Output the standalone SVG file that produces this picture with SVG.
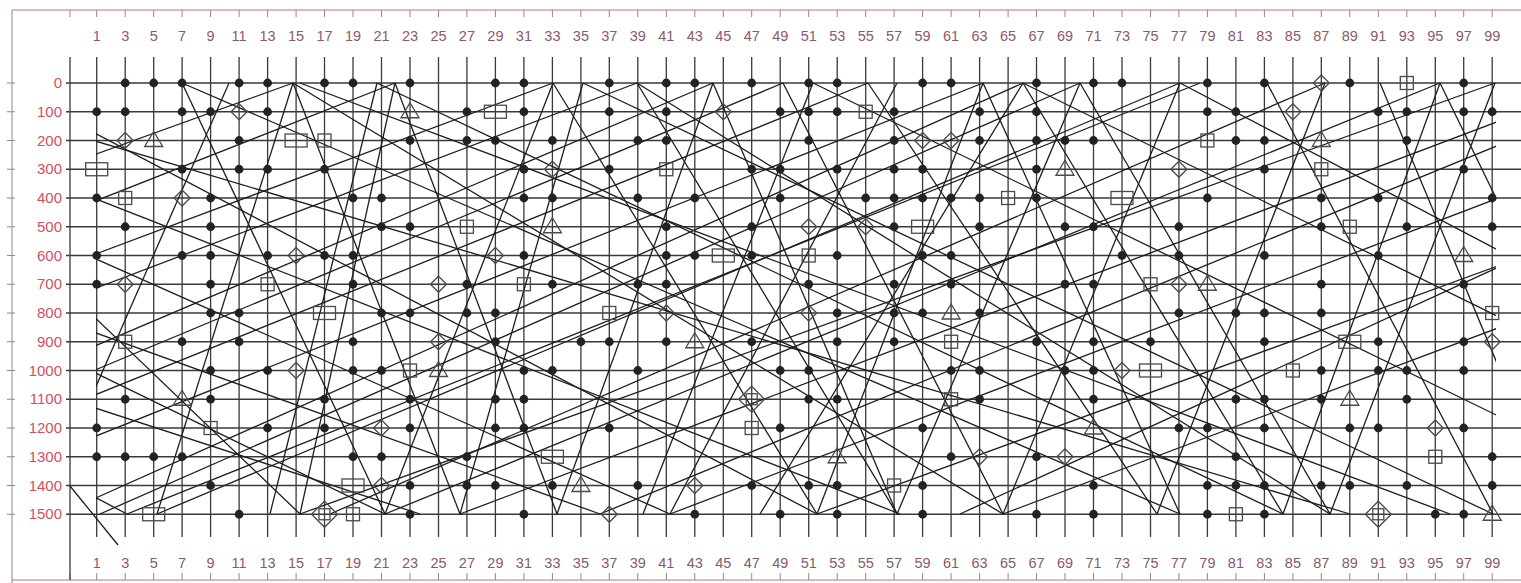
<svg xmlns="http://www.w3.org/2000/svg" width="1521" height="583" viewBox="0 0 1521 583">
<style>
.g{stroke:#3a3a3a;stroke-width:1.3;fill:none}
.ln{stroke:#1e1e1e;stroke-width:1.3;fill:none}
.sym{fill:none;stroke:#4a4a4a;stroke-width:1.3}
.ct{font-family:"Liberation Sans",Arial,sans-serif;font-size:14.5px;fill:#8a5a6a;text-anchor:middle}
.rt{font-family:"Liberation Sans",Arial,sans-serif;font-size:15px;fill:#d0505e;text-anchor:end}
.fr{stroke:#e39aa2;stroke-width:1.5;fill:none}
.tk{stroke:#8a8a8a;stroke-width:1}
</style>
<defs>
<circle id="d" r="4.4" fill="#222"/>
<rect id="q" x="-6.5" y="-6.5" width="13" height="13" class="sym"/>
<rect id="w" x="-11" y="-6.5" width="22" height="13" class="sym"/>
<path id="m" d="M0-8L8 0L0 8L-8 0Z" class="sym"/>
<g id="M"><path d="M0-13L13 0L0 13L-13 0Z" class="sym"/><rect x="-5.5" y="-5.5" width="11" height="11" class="sym"/></g>
<path id="t" d="M0-9L9 6L-9 6Z" class="sym"/>
<clipPath id="cp"><rect x="96" y="80" width="1400" height="437"/></clipPath>
</defs>
<rect width="1521" height="583" fill="#fff"/>
<g id="frame">
<line class="fr" x1="12" y1="10" x2="1521" y2="10"/>
<line class="fr" x1="12" y1="580" x2="1521" y2="580"/>
<line class="tk" x1="12" y1="10" x2="12" y2="583"/>
<path class="tk" d="M70 10v7M96.7 10v7M125.2 10v7M153.7 10v7M182.1 10v7M210.6 10v7M239.1 10v7M267.6 10v7M296.1 10v7M324.5 10v7M353 10v7M381.5 10v7M410 10v7M438.5 10v7M466.9 10v7M495.4 10v7M523.9 10v7M552.4 10v7M580.9 10v7M609.3 10v7M637.8 10v7M666.3 10v7M694.8 10v7M723.3 10v7M751.7 10v7M780.2 10v7M808.7 10v7M837.2 10v7M865.7 10v7M894.1 10v7M922.6 10v7M951.1 10v7M979.6 10v7M1008.1 10v7M1036.5 10v7M1065 10v7M1093.5 10v7M1122 10v7M1150.5 10v7M1178.9 10v7M1207.4 10v7M1235.9 10v7M1264.4 10v7M1292.9 10v7M1321.3 10v7M1349.8 10v7M1378.3 10v7M1406.8 10v7M1435.3 10v7M1463.7 10v7M1492.2 10v7"/>
<path class="tk" d="M70 573v7M96.7 573v7M125.2 573v7M153.7 573v7M182.1 573v7M210.6 573v7M239.1 573v7M267.6 573v7M296.1 573v7M324.5 573v7M353 573v7M381.5 573v7M410 573v7M438.5 573v7M466.9 573v7M495.4 573v7M523.9 573v7M552.4 573v7M580.9 573v7M609.3 573v7M637.8 573v7M666.3 573v7M694.8 573v7M723.3 573v7M751.7 573v7M780.2 573v7M808.7 573v7M837.2 573v7M865.7 573v7M894.1 573v7M922.6 573v7M951.1 573v7M979.6 573v7M1008.1 573v7M1036.5 573v7M1065 573v7M1093.5 573v7M1122 573v7M1150.5 573v7M1178.9 573v7M1207.4 573v7M1235.9 573v7M1264.4 573v7M1292.9 573v7M1321.3 573v7M1349.8 573v7M1378.3 573v7M1406.8 573v7M1435.3 573v7M1463.7 573v7M1492.2 573v7"/>
<path class="tk" d="M7 83h8M7 111.75h8M7 140.5h8M7 169.25h8M7 198h8M7 226.75h8M7 255.5h8M7 284.25h8M7 313h8M7 341.75h8M7 370.5h8M7 399.25h8M7 428h8M7 456.75h8M7 485.5h8M7 514.25h8"/>
</g>
<g id="grid" class="g">
<path d="M70 57V580M96.7 57V537M125.2 57V537M153.7 57V537M182.1 57V537M210.6 57V537M239.1 57V537M267.6 57V537M296.1 57V537M324.5 57V537M353 57V537M381.5 57V537M410 57V537M438.5 57V537M466.9 57V537M495.4 57V537M523.9 57V537M552.4 57V537M580.9 57V537M609.3 57V537M637.8 57V537M666.3 57V537M694.8 57V537M723.3 57V537M751.7 57V537M780.2 57V537M808.7 57V537M837.2 57V537M865.7 57V537M894.1 57V537M922.6 57V537M951.1 57V537M979.6 57V537M1008.1 57V537M1036.5 57V537M1065 57V537M1093.5 57V537M1122 57V537M1150.5 57V537M1178.9 57V537M1207.4 57V537M1235.9 57V537M1264.4 57V537M1292.9 57V537M1321.3 57V537M1349.8 57V537M1378.3 57V537M1406.8 57V537M1435.3 57V537M1463.7 57V537M1492.2 57V537"/>
<path d="M66 83H1521M66 111.75H1521M66 140.5H1521M66 169.25H1521M66 198H1521M66 226.75H1521M66 255.5H1521M66 284.25H1521M66 313H1521M66 341.75H1521M66 370.5H1521M66 399.25H1521M66 428H1521M66 456.75H1521M66 485.5H1521M66 514.25H1521"/>
</g>
<g id="row-labels" class="rt">
<text x="62" y="88">0</text><text x="62" y="117">100</text><text x="62" y="146">200</text><text x="62" y="174">300</text><text x="62" y="203">400</text><text x="62" y="232">500</text><text x="62" y="261">600</text><text x="62" y="289">700</text><text x="62" y="318">800</text><text x="62" y="347">900</text><text x="62" y="376">1000</text><text x="62" y="404">1100</text><text x="62" y="433">1200</text><text x="62" y="462">1300</text><text x="62" y="491">1400</text><text x="62" y="519">1500</text>
</g>
<g id="col-labels-top" class="ct">
<text x="96.7" y="41">1</text><text x="125.2" y="41">3</text><text x="153.7" y="41">5</text><text x="182.1" y="41">7</text><text x="210.6" y="41">9</text><text x="239.1" y="41">11</text><text x="267.6" y="41">13</text><text x="296.1" y="41">15</text><text x="324.5" y="41">17</text><text x="353" y="41">19</text><text x="381.5" y="41">21</text><text x="410" y="41">23</text><text x="438.5" y="41">25</text><text x="466.9" y="41">27</text><text x="495.4" y="41">29</text><text x="523.9" y="41">31</text><text x="552.4" y="41">33</text><text x="580.9" y="41">35</text><text x="609.3" y="41">37</text><text x="637.8" y="41">39</text><text x="666.3" y="41">41</text><text x="694.8" y="41">43</text><text x="723.3" y="41">45</text><text x="751.7" y="41">47</text><text x="780.2" y="41">49</text><text x="808.7" y="41">51</text><text x="837.2" y="41">53</text><text x="865.7" y="41">55</text><text x="894.1" y="41">57</text><text x="922.6" y="41">59</text><text x="951.1" y="41">61</text><text x="979.6" y="41">63</text><text x="1008.1" y="41">65</text><text x="1036.5" y="41">67</text><text x="1065" y="41">69</text><text x="1093.5" y="41">71</text><text x="1122" y="41">73</text><text x="1150.5" y="41">75</text><text x="1178.9" y="41">77</text><text x="1207.4" y="41">79</text><text x="1235.9" y="41">81</text><text x="1264.4" y="41">83</text><text x="1292.9" y="41">85</text><text x="1321.3" y="41">87</text><text x="1349.8" y="41">89</text><text x="1378.3" y="41">91</text><text x="1406.8" y="41">93</text><text x="1435.3" y="41">95</text><text x="1463.7" y="41">97</text><text x="1492.2" y="41">99</text>
</g>
<g id="col-labels-bottom" class="ct">
<text x="96.7" y="568">1</text><text x="125.2" y="568">3</text><text x="153.7" y="568">5</text><text x="182.1" y="568">7</text><text x="210.6" y="568">9</text><text x="239.1" y="568">11</text><text x="267.6" y="568">13</text><text x="296.1" y="568">15</text><text x="324.5" y="568">17</text><text x="353" y="568">19</text><text x="381.5" y="568">21</text><text x="410" y="568">23</text><text x="438.5" y="568">25</text><text x="466.9" y="568">27</text><text x="495.4" y="568">29</text><text x="523.9" y="568">31</text><text x="552.4" y="568">33</text><text x="580.9" y="568">35</text><text x="609.3" y="568">37</text><text x="637.8" y="568">39</text><text x="666.3" y="568">41</text><text x="694.8" y="568">43</text><text x="723.3" y="568">45</text><text x="751.7" y="568">47</text><text x="780.2" y="568">49</text><text x="808.7" y="568">51</text><text x="837.2" y="568">53</text><text x="865.7" y="568">55</text><text x="894.1" y="568">57</text><text x="922.6" y="568">59</text><text x="951.1" y="568">61</text><text x="979.6" y="568">63</text><text x="1008.1" y="568">65</text><text x="1036.5" y="568">67</text><text x="1065" y="568">69</text><text x="1093.5" y="568">71</text><text x="1122" y="568">73</text><text x="1150.5" y="568">75</text><text x="1178.9" y="568">77</text><text x="1207.4" y="568">79</text><text x="1235.9" y="568">81</text><text x="1264.4" y="568">83</text><text x="1292.9" y="568">85</text><text x="1321.3" y="568">87</text><text x="1349.8" y="568">89</text><text x="1378.3" y="568">91</text><text x="1406.8" y="568">93</text><text x="1435.3" y="568">95</text><text x="1463.7" y="568">97</text><text x="1492.2" y="568">99</text>
</g>
<g id="connectors" class="ln">
<line x1="70" y1="486" x2="118" y2="545"/>
<g clip-path="url(#cp)">
<line x1="1200" y1="83" x2="127" y2="514"/><line x1="1180" y1="83" x2="157" y2="514"/><line x1="1495" y1="83" x2="300" y2="514"/><line x1="1440" y1="83" x2="385" y2="514"/><line x1="868" y1="83" x2="-200" y2="514"/><line x1="713" y1="83" x2="-300" y2="514"/><line x1="553" y1="83" x2="-600" y2="514"/><line x1="983" y1="83" x2="-100" y2="514"/><line x1="1080" y1="83" x2="100" y2="514"/><line x1="395" y1="83" x2="-700" y2="514"/><line x1="293" y1="83" x2="-900" y2="514"/><line x1="1325" y1="83" x2="330" y2="514"/><line x1="1600" y1="83" x2="460" y2="514"/><line x1="1650" y1="83" x2="600" y2="514"/><line x1="1800" y1="83" x2="670" y2="514"/><line x1="2000" y1="83" x2="817" y2="514"/><line x1="783" y1="83" x2="-250" y2="514"/><line x1="1023" y1="83" x2="60" y2="514"/><line x1="637" y1="83" x2="-500" y2="514"/><line x1="1900" y1="83" x2="960" y2="514"/><line x1="2150" y1="83" x2="1003" y2="514"/>
<line x1="377" y1="83" x2="1283" y2="514"/><line x1="583" y1="83" x2="1493" y2="514"/><line x1="293" y1="83" x2="1003" y2="514"/><line x1="813" y1="83" x2="1700" y2="514"/><line x1="1023" y1="83" x2="1900" y2="514"/><line x1="-300" y1="83" x2="670" y2="514"/><line x1="0" y1="83" x2="817" y2="514"/><line x1="-500" y1="83" x2="385" y2="514"/><line x1="637" y1="83" x2="1330" y2="514"/><line x1="1180" y1="83" x2="2000" y2="514"/><line x1="182" y1="83" x2="1180" y2="514"/><line x1="-700" y1="83" x2="127" y2="514"/><line x1="-200" y1="83" x2="900" y2="514"/><line x1="-600" y1="83" x2="600" y2="514"/><line x1="-900" y1="83" x2="420" y2="514"/><line x1="-100" y1="83" x2="1350" y2="514"/><line x1="300" y1="83" x2="1450" y2="514"/>
<line x1="182" y1="83" x2="385" y2="514"/><line x1="395" y1="83" x2="557" y2="514"/><line x1="553" y1="83" x2="817" y2="514"/><line x1="713" y1="83" x2="897" y2="514"/><line x1="868" y1="83" x2="1157" y2="514"/><line x1="983" y1="83" x2="1180" y2="514"/><line x1="1080" y1="83" x2="1330" y2="514"/><line x1="1267" y1="83" x2="1493" y2="514"/><line x1="637" y1="83" x2="897" y2="514"/><line x1="1440" y1="83" x2="1650" y2="514"/><line x1="293" y1="83" x2="460" y2="514"/><line x1="783" y1="83" x2="1003" y2="514"/><line x1="1023" y1="83" x2="1283" y2="514"/><line x1="-150" y1="83" x2="300" y2="514"/><line x1="1380" y1="83" x2="1560" y2="514"/>
<line x1="229" y1="83" x2="40" y2="514"/><line x1="395" y1="83" x2="300" y2="514"/><line x1="583" y1="83" x2="460" y2="514"/><line x1="713" y1="83" x2="557" y2="514"/><line x1="813" y1="83" x2="643" y2="514"/><line x1="1080" y1="83" x2="897" y2="514"/><line x1="1180" y1="83" x2="1003" y2="514"/><line x1="1325" y1="83" x2="1157" y2="514"/><line x1="1495" y1="83" x2="1330" y2="514"/><line x1="983" y1="83" x2="817" y2="514"/><line x1="377" y1="83" x2="270" y2="514"/><line x1="1440" y1="83" x2="1283" y2="514"/><line x1="897" y1="83" x2="670" y2="514"/><line x1="553" y1="83" x2="385" y2="514"/><line x1="293" y1="83" x2="157" y2="514"/><line x1="1023" y1="83" x2="760" y2="514"/>
</g>
</g>
<g id="marks">
<g transform="translate(0,83)"><use href="#d" x="125.2"/><use href="#d" x="153.7"/><use href="#d" x="182.1"/><use href="#d" x="239.1"/><use href="#d" x="267.6"/><use href="#d" x="324.5"/><use href="#d" x="353"/><use href="#d" x="410"/><use href="#d" x="495.4"/><use href="#d" x="523.9"/><use href="#d" x="609.3"/><use href="#d" x="666.3"/><use href="#d" x="694.8"/><use href="#d" x="751.7"/><use href="#d" x="808.7"/><use href="#d" x="837.2"/><use href="#d" x="922.6"/><use href="#d" x="951.1"/><use href="#d" x="1036.5"/><use href="#d" x="1093.5"/><use href="#d" x="1122"/><use href="#d" x="1207.4"/><use href="#d" x="1264.4"/><use href="#d" x="1349.8"/><use href="#d" x="1463.7"/><use href="#m" x="1321.3"/><use href="#q" x="1406.8"/></g>
<g transform="translate(0,111.75)"><use href="#d" x="96.7"/><use href="#d" x="125.2"/><use href="#d" x="182.1"/><use href="#d" x="210.6"/><use href="#d" x="267.6"/><use href="#d" x="466.9"/><use href="#d" x="523.9"/><use href="#d" x="609.3"/><use href="#d" x="666.3"/><use href="#d" x="780.2"/><use href="#d" x="808.7"/><use href="#d" x="837.2"/><use href="#d" x="894.1"/><use href="#d" x="979.6"/><use href="#d" x="1036.5"/><use href="#d" x="1207.4"/><use href="#d" x="1235.9"/><use href="#d" x="1378.3"/><use href="#d" x="1406.8"/><use href="#d" x="1463.7"/><use href="#d" x="1492.2"/><use href="#m" x="239.1"/><use href="#m" x="723.3"/><use href="#m" x="1292.9"/><use href="#t" x="410"/><use href="#w" x="495.4"/><use href="#q" x="865.7"/></g>
<g transform="translate(0,140.5)"><use href="#d" x="239.1"/><use href="#d" x="410"/><use href="#d" x="466.9"/><use href="#d" x="495.4"/><use href="#d" x="552.4"/><use href="#d" x="637.8"/><use href="#d" x="666.3"/><use href="#d" x="808.7"/><use href="#d" x="894.1"/><use href="#d" x="979.6"/><use href="#d" x="1036.5"/><use href="#d" x="1065"/><use href="#d" x="1093.5"/><use href="#d" x="1235.9"/><use href="#d" x="1264.4"/><use href="#d" x="1406.8"/><use href="#m" x="125.2"/><use href="#m" x="922.6"/><use href="#m" x="951.1"/><use href="#t" x="153.7"/><use href="#t" x="1321.3"/><use href="#w" x="296.1"/><use href="#q" x="324.5"/><use href="#q" x="1207.4"/></g>
<g transform="translate(0,169.25)"><use href="#d" x="182.1"/><use href="#d" x="239.1"/><use href="#d" x="267.6"/><use href="#d" x="324.5"/><use href="#d" x="523.9"/><use href="#d" x="609.3"/><use href="#d" x="751.7"/><use href="#d" x="780.2"/><use href="#d" x="837.2"/><use href="#d" x="894.1"/><use href="#d" x="922.6"/><use href="#d" x="1036.5"/><use href="#d" x="1264.4"/><use href="#d" x="1463.7"/><use href="#w" x="96.7"/><use href="#m" x="552.4"/><use href="#m" x="1178.9"/><use href="#q" x="666.3"/><use href="#q" x="1321.3"/><use href="#t" x="1065"/></g>
<g transform="translate(0,198)"><use href="#d" x="96.7"/><use href="#d" x="210.6"/><use href="#d" x="353"/><use href="#d" x="381.5"/><use href="#d" x="523.9"/><use href="#d" x="552.4"/><use href="#d" x="637.8"/><use href="#d" x="694.8"/><use href="#d" x="780.2"/><use href="#d" x="865.7"/><use href="#d" x="894.1"/><use href="#d" x="922.6"/><use href="#d" x="951.1"/><use href="#d" x="979.6"/><use href="#d" x="1036.5"/><use href="#d" x="1207.4"/><use href="#d" x="1321.3"/><use href="#d" x="1378.3"/><use href="#d" x="1492.2"/><use href="#q" x="125.2"/><use href="#q" x="1008.1"/><use href="#w" x="1122"/><use href="#m" x="182.1"/></g>
<g transform="translate(0,226.75)"><use href="#d" x="125.2"/><use href="#d" x="210.6"/><use href="#d" x="381.5"/><use href="#d" x="410"/><use href="#d" x="666.3"/><use href="#d" x="751.7"/><use href="#d" x="894.1"/><use href="#d" x="979.6"/><use href="#d" x="1065"/><use href="#d" x="1093.5"/><use href="#d" x="1178.9"/><use href="#d" x="1321.3"/><use href="#d" x="1406.8"/><use href="#d" x="1492.2"/><use href="#q" x="466.9"/><use href="#q" x="1349.8"/><use href="#t" x="552.4"/><use href="#m" x="865.7"/><use href="#m" x="808.7"/><use href="#w" x="922.6"/></g>
<g transform="translate(0,255.5)"><use href="#d" x="96.7"/><use href="#d" x="182.1"/><use href="#d" x="210.6"/><use href="#d" x="267.6"/><use href="#d" x="324.5"/><use href="#d" x="353"/><use href="#d" x="523.9"/><use href="#d" x="666.3"/><use href="#d" x="694.8"/><use href="#d" x="751.7"/><use href="#d" x="837.2"/><use href="#d" x="922.6"/><use href="#d" x="951.1"/><use href="#d" x="1122"/><use href="#d" x="1178.9"/><use href="#d" x="1264.4"/><use href="#d" x="1378.3"/><use href="#m" x="296.1"/><use href="#m" x="495.4"/><use href="#w" x="723.3"/><use href="#q" x="808.7"/><use href="#t" x="1463.7"/></g>
<g transform="translate(0,284.25)"><use href="#d" x="96.7"/><use href="#d" x="210.6"/><use href="#d" x="353"/><use href="#d" x="466.9"/><use href="#d" x="552.4"/><use href="#d" x="637.8"/><use href="#d" x="666.3"/><use href="#d" x="808.7"/><use href="#d" x="894.1"/><use href="#d" x="951.1"/><use href="#d" x="1065"/><use href="#d" x="1093.5"/><use href="#d" x="1321.3"/><use href="#d" x="1463.7"/><use href="#m" x="125.2"/><use href="#m" x="438.5"/><use href="#m" x="1178.9"/><use href="#q" x="267.6"/><use href="#q" x="523.9"/><use href="#q" x="1150.5"/><use href="#t" x="1207.4"/></g>
<g transform="translate(0,313)"><use href="#d" x="210.6"/><use href="#d" x="239.1"/><use href="#d" x="381.5"/><use href="#d" x="410"/><use href="#d" x="466.9"/><use href="#d" x="495.4"/><use href="#d" x="837.2"/><use href="#d" x="894.1"/><use href="#d" x="922.6"/><use href="#d" x="979.6"/><use href="#d" x="1178.9"/><use href="#d" x="1235.9"/><use href="#d" x="1264.4"/><use href="#d" x="1321.3"/><use href="#w" x="324.5"/><use href="#q" x="609.3"/><use href="#q" x="1492.2"/><use href="#m" x="666.3"/><use href="#m" x="808.7"/><use href="#t" x="951.1"/></g>
<g transform="translate(0,341.75)"><use href="#d" x="182.1"/><use href="#d" x="239.1"/><use href="#d" x="353"/><use href="#d" x="495.4"/><use href="#d" x="580.9"/><use href="#d" x="609.3"/><use href="#d" x="666.3"/><use href="#d" x="751.7"/><use href="#d" x="837.2"/><use href="#d" x="894.1"/><use href="#d" x="1036.5"/><use href="#d" x="1093.5"/><use href="#d" x="1150.5"/><use href="#d" x="1264.4"/><use href="#d" x="1378.3"/><use href="#d" x="1463.7"/><use href="#q" x="125.2"/><use href="#q" x="951.1"/><use href="#w" x="1349.8"/><use href="#t" x="694.8"/><use href="#m" x="438.5"/><use href="#m" x="1492.2"/></g>
<g transform="translate(0,370.5)"><use href="#d" x="210.6"/><use href="#d" x="267.6"/><use href="#d" x="353"/><use href="#d" x="381.5"/><use href="#d" x="523.9"/><use href="#d" x="552.4"/><use href="#d" x="637.8"/><use href="#d" x="780.2"/><use href="#d" x="808.7"/><use href="#d" x="951.1"/><use href="#d" x="979.6"/><use href="#d" x="1065"/><use href="#d" x="1093.5"/><use href="#d" x="1321.3"/><use href="#d" x="1378.3"/><use href="#d" x="1406.8"/><use href="#d" x="1463.7"/><use href="#m" x="296.1"/><use href="#m" x="1122"/><use href="#q" x="410"/><use href="#q" x="1292.9"/><use href="#t" x="438.5"/><use href="#w" x="1150.5"/></g>
<g transform="translate(0,399.25)"><use href="#d" x="125.2"/><use href="#d" x="210.6"/><use href="#d" x="324.5"/><use href="#d" x="410"/><use href="#d" x="495.4"/><use href="#d" x="523.9"/><use href="#d" x="808.7"/><use href="#d" x="837.2"/><use href="#d" x="979.6"/><use href="#d" x="1093.5"/><use href="#d" x="1235.9"/><use href="#d" x="1264.4"/><use href="#d" x="1321.3"/><use href="#d" x="1406.8"/><use href="#t" x="182.1"/><use href="#t" x="1349.8"/><use href="#q" x="951.1"/><use href="#M" x="751.7"/></g>
<g transform="translate(0,428)"><use href="#d" x="96.7"/><use href="#d" x="267.6"/><use href="#d" x="324.5"/><use href="#d" x="410"/><use href="#d" x="495.4"/><use href="#d" x="523.9"/><use href="#d" x="609.3"/><use href="#d" x="780.2"/><use href="#d" x="922.6"/><use href="#d" x="1178.9"/><use href="#d" x="1207.4"/><use href="#d" x="1264.4"/><use href="#d" x="1349.8"/><use href="#d" x="1378.3"/><use href="#d" x="1463.7"/><use href="#q" x="210.6"/><use href="#q" x="751.7"/><use href="#t" x="1093.5"/><use href="#m" x="1435.3"/><use href="#m" x="381.5"/></g>
<g transform="translate(0,456.75)"><use href="#d" x="96.7"/><use href="#d" x="125.2"/><use href="#d" x="153.7"/><use href="#d" x="182.1"/><use href="#d" x="353"/><use href="#d" x="381.5"/><use href="#d" x="466.9"/><use href="#d" x="951.1"/><use href="#d" x="1036.5"/><use href="#d" x="1235.9"/><use href="#d" x="1492.2"/><use href="#w" x="552.4"/><use href="#t" x="837.2"/><use href="#m" x="979.6"/><use href="#m" x="1065"/><use href="#q" x="1435.3"/></g>
<g transform="translate(0,485.5)"><use href="#d" x="210.6"/><use href="#d" x="410"/><use href="#d" x="466.9"/><use href="#d" x="495.4"/><use href="#d" x="552.4"/><use href="#d" x="637.8"/><use href="#d" x="751.7"/><use href="#d" x="808.7"/><use href="#d" x="837.2"/><use href="#d" x="922.6"/><use href="#d" x="1093.5"/><use href="#d" x="1207.4"/><use href="#d" x="1235.9"/><use href="#d" x="1264.4"/><use href="#d" x="1321.3"/><use href="#d" x="1349.8"/><use href="#d" x="1406.8"/><use href="#d" x="1492.2"/><use href="#w" x="353"/><use href="#t" x="580.9"/><use href="#m" x="381.5"/><use href="#m" x="694.8"/><use href="#q" x="894.1"/></g>
<g transform="translate(0,514.25)"><use href="#d" x="239.1"/><use href="#d" x="410"/><use href="#d" x="523.9"/><use href="#d" x="694.8"/><use href="#d" x="780.2"/><use href="#d" x="837.2"/><use href="#d" x="922.6"/><use href="#d" x="1036.5"/><use href="#d" x="1093.5"/><use href="#d" x="1207.4"/><use href="#d" x="1264.4"/><use href="#d" x="1435.3"/><use href="#d" x="1463.7"/><use href="#w" x="153.7"/><use href="#M" x="324.5"/><use href="#M" x="1378.3"/><use href="#q" x="353"/><use href="#q" x="1235.9"/><use href="#t" x="1492.2"/><use href="#m" x="609.3"/></g>
</g>
</svg>
